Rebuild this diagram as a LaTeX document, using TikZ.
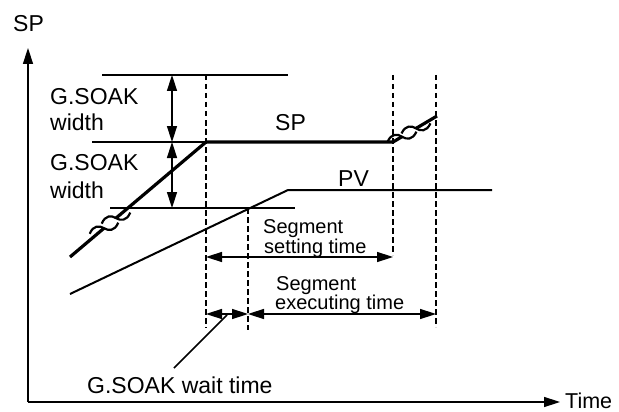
\documentclass[tikz,border=0pt]{standalone}
\usepackage{fontspec}
\setmainfont{Liberation Sans}
\usetikzlibrary{arrows.meta}
\begin{document}
\begin{tikzpicture}[x=1pt,y=-1pt,
  thinl/.style={line width=1.5pt},
  thickl/.style={line width=3.2pt, line join=miter},
  dashl/.style={line width=1.5pt, dash pattern=on 5.5pt off 3.5pt},
  arr/.style={thinl, -{Triangle[length=16pt,width=10pt]}},
  darr/.style={thinl, {Triangle[length=16pt,width=10pt]}-{Triangle[length=16pt,width=10pt]}},
  lbl/.style={font=\fontsize{23}{28}\selectfont, inner sep=0pt, anchor=base west},
  slbl/.style={font=\fontsize{20}{20}\selectfont, inner sep=0pt, anchor=base west},
  tilde/.pic={\draw[line width=2.2pt] (-15,3) .. controls (-10,-5) and (-4,-3.5) .. (0,0) .. controls (4,3.5) and (10,5) .. (15,-3);}
]
\useasboundingbox (0,0) rectangle (619,412);

% axes
\coordinate (O) at (28,402);
\coordinate (Ytop) at (28,48);
\coordinate (Xend) at (560,402);
\draw[arr] (O) -- (Ytop);
\draw[arr] (O) -- (Xend);
\node[lbl] (spax) at (13,32) {SP};
\node[lbl,font=\fontsize{21.5}{26}\selectfont] (time) at (565,408.5) {Time};

% reference horizontal lines
\coordinate (h1a) at (102,75);  \coordinate (h1b) at (288,75);
\coordinate (h2a) at (92,142);  \coordinate (h2b) at (206,142);
\coordinate (h3a) at (110,208); \coordinate (h3b) at (295,208);
\draw[thinl] (h1a) -- (h1b);
\draw[thinl] (h2a) -- (h2b);
\draw[thinl] (h3a) -- (h3b);

% dashed verticals
\coordinate (d1a) at (206,75);  \coordinate (d1b) at (206,328);
\coordinate (d2a) at (248,208); \coordinate (d2b) at (248,330);
\coordinate (d3a) at (393,75);  \coordinate (d3b) at (393,255);
\coordinate (d4a) at (436,75);  \coordinate (d4b) at (436,327);
\draw[dashl] (d1a) -- (d1b);
\draw[dashl] (d2a) -- (d2b);
\draw[dashl] (d3a) -- (d3b);
\draw[dashl] (d4a) -- (d4b);

% G.SOAK width arrows
\coordinate (w1) at (172,75);
\coordinate (w2) at (172,142);
\coordinate (w3) at (172,208);
\draw[darr] (w1) -- (w2);
\draw[darr] (w2) -- (w3);
\node[lbl] (gs1) at (50,105) {G.SOAK};
\node[lbl] (wd1) at (50,130) {width};
\node[lbl] (gs2) at (50,170) {G.SOAK};
\node[lbl] (wd2) at (50,198) {width};

% SP line
\coordinate (sp0) at (70,257);
\coordinate (b1l) at (104,228.2);
\coordinate (b1u) at (116,218.1);
\coordinate (spc) at (206,142);
\coordinate (spe) at (393,142);
\coordinate (b2l) at (402,136.7);
\coordinate (b2u) at (416,128.4);
\coordinate (sp1) at (437,116);
\draw[thickl] (sp0) -- (b1l);
\draw[thickl] (b1u) -- (spc) -- (spe) -- (b2l);
\draw[thickl] (b2u) -- (sp1);
\pic[rotate=10] at (b1l) {tilde};
\pic[rotate=10] at (b1u) {tilde};
\pic[rotate=8] at (b2l) {tilde};
\pic[rotate=8] at (b2u) {tilde};
\node[lbl] (splbl) at (275,130) {SP};

% PV line
\coordinate (pv0) at (70,294);
\coordinate (pvc) at (288,190);
\coordinate (pv1) at (492,190);
\draw[line width=2pt] (pv0) -- (pvc) -- (pv1);
\node[lbl] (pvlbl) at (338,186) {PV};

% time arrows
\coordinate (s1a) at (206,257); \coordinate (s1b) at (393,257);
\draw[darr] (s1a) -- (s1b);
\node[slbl] (seg1) at (263,233) {Segment};
\node[slbl] (set1) at (264,253) {setting time};

\coordinate (e1a) at (248,314); \coordinate (e1b) at (436,314);
\draw[darr] (e1a) -- (e1b);
\node[slbl] (seg2) at (276,290) {Segment};
\node[slbl] (exe2) at (275,309) {executing time};

\coordinate (wa) at (206,314); \coordinate (wb) at (248,314);
\draw[darr] (wa) -- (wb);
\coordinate (ldA) at (227,315);
\coordinate (ldB) at (174,368);
\draw[thinl] (ldA) -- (ldB);
\node[lbl] (wait) at (87,393) {G.SOAK wait time};
\end{tikzpicture}
\end{document}
